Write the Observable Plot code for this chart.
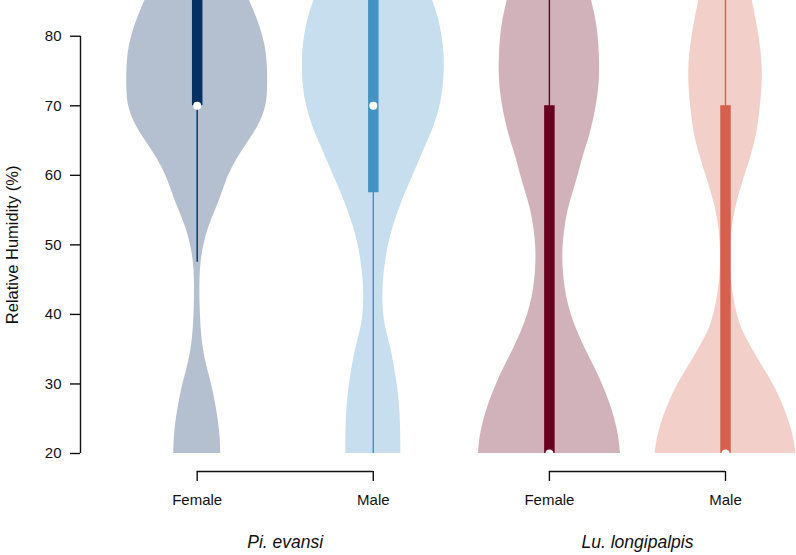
<!DOCTYPE html>
<html><head><meta charset="utf-8">
<script src="https://cdn.jsdelivr.net/npm/d3@7"></script>
<script src="https://cdn.jsdelivr.net/npm/@observablehq/plot@0.6"></script>
<style>
body{margin:0;background:#fff;}
</style>
</head><body><div id="chart"></div>
<script>
// ---- data ----
const species = ["Pi. evansi", "Lu. longipalpis"];
const sexes = ["Female", "Male", "Female", "Male"];
const groupSpecies = ["Pi. evansi", "Pi. evansi", "Lu. longipalpis", "Lu. longipalpis"];
const colors = ["#053061", "#4393c3", "#67001f", "#d6604d"];
const yTicks = [20, 30, 40, 50, 60, 70, 80];

// relative humidity grid at which violin densities were read
const rhGrid = [20, 22.5, 25, 27.5, 30, 32.5, 35, 37.5, 40, 42.5, 45, 47.5, 50, 52.5,
                55, 57.5, 60, 62.5, 65, 67.5, 70, 72.5, 75, 77.5, 80, 82.5, 85, 87.5];
// kernel densities (arbitrary units, common scale)
const densPiFemale = [23.5, 23, 21, 18, 14.5, 9.5, 6, 4, 3.2, 2.6, 2.7, 3.5, 6.5, 11,
                      18.5, 25, 31, 40, 52, 63, 69.5, 70.5, 70.5, 69.5, 66, 60, 53, 44];
const densPiMale   = [27.5, 27.5, 27, 26, 24, 21, 18, 13, 10, 9.3, 10, 12, 15, 19.5,
                      25.5, 32, 40, 47, 55, 62, 67, 70, 71, 71, 69, 65.5, 60, 53];
const densLuFemale = [71, 69.5, 65.5, 60, 53, 45, 36, 28, 21.5, 17, 14.5, 13.3, 13.5, 15.5,
                      18.5, 23.5, 29, 33, 39, 43.5, 47, 49.5, 50.5, 50, 49, 46.5, 42.5, 38];
const densLuMale   = [70.5, 68, 63, 56, 48, 37, 27, 17, 11.5, 8, 5.7, 4.7, 5, 6.5,
                      9.5, 14, 19.5, 25, 30, 33, 35, 36.5, 37, 36, 33.5, 30.5, 27, 23];
const densities = [densPiFemale, densPiMale, densLuFemale, densLuMale];

// box plot statistics
const whiskerLow  = [47.5, 20, 20, 20];
const q1          = [70, 57.5, 20, 20];
const median      = [70, 70, 20, 20];
const q3          = [90, 90, 70, 70];
const whiskerHigh = [90, 90, 90, 90];

// ---- layout ----
const W = 796, H = 555;
const mLeft = 80, mRight = 0, mTop = 0, mBottom = 102;
const yDomain = [20, 85.14];
const spacing = 176.1;                 // px between violin centres
const firstCentrePx = 196.7;
const pos = sexes.map((_, i) => i + 1);
const xDomain = [1 - (firstCentrePx - mLeft) / spacing,
                 4 + (W - mRight - (firstCentrePx + 3 * spacing)) / spacing];
const maxDens = d3.max(densities.flat());
const maxHalf = 71 / spacing;          // half width of widest violin, x units
const pxPerY = (H - mBottom - mTop) / (yDomain[1] - yDomain[0]);
const below = px => yDomain[0] - px / pxPerY;

const groups = sexes.map((s, i) => ({
  i, sex: s, species: groupSpecies[i], x: pos[i], color: colors[i],
  wl: whiskerLow[i], q1: q1[i], med: median[i], q3: q3[i], wh: whiskerHigh[i]
}));
const speciesRows = species.map(sp => {
  const g = groups.filter(d => d.species === sp);
  return {species: sp, x1: g[0].x, x2: g[g.length - 1].x, mid: (g[0].x + g[g.length - 1].x) / 2};
});

const marks = [];
groups.forEach(g => {
  const rows = rhGrid.map((rh, k) => ({rh, w: densities[g.i][k] / maxDens * maxHalf}));
  marks.push(Plot.areaX(rows, {
    y: "rh", x1: d => g.x - d.w, x2: d => g.x + d.w,
    fill: g.color, fillOpacity: 0.3, curve: "basis", clip: true
  }));
});
marks.push(
  Plot.ruleX(groups, {x: "x", y1: "wl", y2: "wh", stroke: "color", strokeWidth: 1.4, clip: true}),
  Plot.ruleX(groups, {x: "x", y1: "q1", y2: "q3", stroke: "color", strokeWidth: 10.5, strokeLinecap: "butt", clip: true}),
  Plot.dot(groups, {x: "x", y: "med", r: 4, fill: "white", stroke: "none", clip: true}),
  // y axis
  Plot.ruleX([xDomain[0]], {y1: yTicks[0], y2: yTicks[yTicks.length - 1], stroke: "#111", strokeWidth: 1.4}),
  Plot.axisY(yTicks, {tickSize: 10, tickPadding: 9, fontSize: 15, label: null, stroke: "#111", strokeWidth: 1.4, color: "#111"}),
  Plot.text(["Relative Humidity (%)"], {x: xDomain[0], y: (yTicks[0] + yTicks[yTicks.length - 1]) / 2,
    dx: -68, rotate: -90, fontSize: 16.5, fill: "#111", textAnchor: "middle", lineAnchor: "middle"}),
  // group brackets
  Plot.ruleY(speciesRows, {y: below(18), x1: "x1", x2: "x2", stroke: "#111", strokeWidth: 1.4}),
  Plot.ruleX(groups, {x: "x", y1: below(18), y2: below(28), stroke: "#111", strokeWidth: 1.4}),
  Plot.text(groups, {x: "x", y: yDomain[0], dy: 47, text: "sex", fontSize: 15, fill: "#111", lineAnchor: "middle"}),
  Plot.text(speciesRows, {x: "mid", y: yDomain[0], dy: 88.5, text: "species", fontSize: 17.5,
    fontStyle: "italic", fill: "#111", lineAnchor: "middle"})
);

const chart = Plot.plot({
  width: W, height: H,
  marginLeft: mLeft, marginRight: mRight, marginTop: mTop, marginBottom: mBottom,
  x: {type: "linear", domain: xDomain, axis: null},
  y: {type: "linear", domain: yDomain, axis: null},
  style: {background: "#fff", overflow: "visible", fontFamily: "'Liberation Sans', Arial, Helvetica, sans-serif"},
  marks
});
document.getElementById("chart").appendChild(chart);
</script>
</body></html>
